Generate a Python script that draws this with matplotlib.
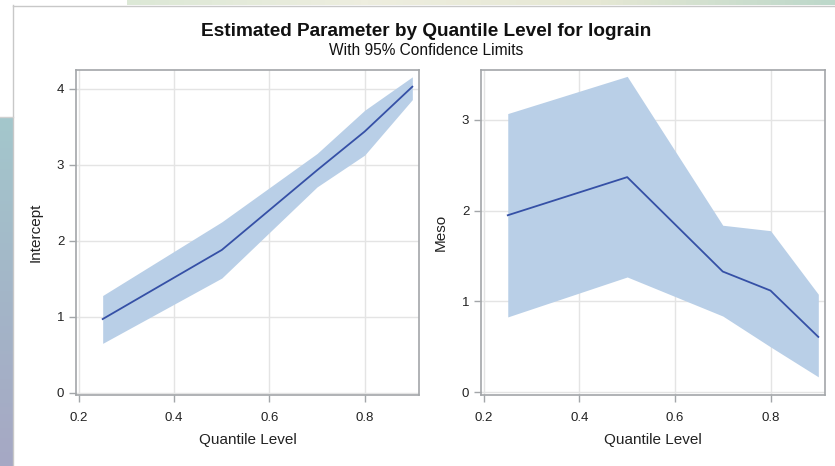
import numpy as np
import matplotlib
matplotlib.use("Agg")
import matplotlib.pyplot as plt

plt.rcParams['font.family'] = ['Liberation Sans', 'DejaVu Sans']

quantiles = [0.25, 0.5, 0.7, 0.8, 0.9]

# Intercept estimates and 95% limits
intercept = [0.97, 1.88, 2.93, 3.44, 4.03]
intercept_lo = [0.65, 1.51, 2.71, 3.13, 3.86]
intercept_hi = [1.28, 2.25, 3.15, 3.72, 4.16]

# Meso estimates and 95% limits
meso = [1.95, 2.37, 1.33, 1.12, 0.61]
meso_lo = [0.83, 1.27, 0.84, 0.50, 0.17]
meso_hi = [3.07, 3.48, 1.84, 1.78, 1.08]

band_color = '#B9CFE7'
line_color = '#3550A6'
frame_color = '#A3A6A9'
grid_color = '#E4E4E4'

fig = plt.figure(figsize=(8.35, 4.66), dpi=100)

# screenshot background bits (left strip and top strip)
grad = np.linspace(0, 1, 100).reshape(-1, 1)
ax_l = fig.add_axes([0, 0, 13 / 835, (466 - 117) / 466])
ax_l.imshow(grad, aspect='auto', cmap=matplotlib.colors.LinearSegmentedColormap.from_list(
    'l', ['#A3C7CC', '#A3B6C8', '#A6A8C4']), extent=[0, 1, 0, 1])
ax_l.axis('off')
ax_t = fig.add_axes([127 / 835, 1 - 5 / 466, 1 - 127 / 835, 5 / 466])
ax_t.imshow(grad.T, aspect='auto', cmap=matplotlib.colors.LinearSegmentedColormap.from_list(
    't', ['#DCE8D6', '#EEEEDF', '#E6E8D4', '#BDD8CA']), extent=[0, 1, 0, 1])
ax_t.axis('off')
fig.add_artist(plt.Line2D([13 / 835, 13 / 835], [0, 1 - 5 / 466], color='#C8C8C8', lw=1))
fig.add_artist(plt.Line2D([13 / 835, 1], [1 - 5.5 / 466, 1 - 5.5 / 466], color='#C8C8C8', lw=1))
fig.add_artist(plt.Line2D([0, 13 / 835], [1 - 116.5 / 466, 1 - 116.5 / 466], color='#D0D0D0', lw=1))

ax1 = fig.add_axes([76 / 835, 71 / 466, 343 / 835, 325 / 466])
ax2 = fig.add_axes([481 / 835, 71 / 466, 344 / 835, 325 / 466])

panels = [
    (ax1, intercept, intercept_lo, intercept_hi, 'Intercept', (-0.03, 4.25), [0, 1, 2, 3, 4]),
    (ax2, meso, meso_lo, meso_hi, 'Meso', (-0.03, 3.55), [0, 1, 2, 3]),
]

for ax, est, lo, hi, name, ylim, yticks in panels:
    ax.fill_between(quantiles, lo, hi, color=band_color, lw=0, zorder=2)
    ax.plot(quantiles, est, color=line_color, lw=1.3, zorder=3)
    ax.set_xlim(0.194, 0.914)
    ax.set_ylim(*ylim)
    ax.set_xticks([0.2, 0.4, 0.6, 0.8])
    ax.set_xticklabels(['0.2', '0.4', '0.6', '0.8'])
    ax.set_yticks(yticks)
    ax.grid(True, color=grid_color, lw=1, zorder=0)
    ax.set_axisbelow(True)
    for s in ax.spines.values():
        s.set_color(frame_color)
        s.set_linewidth(1.2)
    ax.tick_params(colors=frame_color, labelcolor='#222222', labelsize=9.5, length=5, width=1)
    ax.tick_params(axis='x', pad=7.5)
    ax.set_xlabel('Quantile Level', fontsize=11, color='#222222', labelpad=6.5)
    ax.set_ylabel(name, fontsize=11, color='#222222', labelpad=10)

fig.text(426 / 835, 1 - 31.5 / 466, 'Estimated Parameter by Quantile Level for lograin',
         ha='center', va='center', fontsize=13.7, fontweight='bold', color='#111111')
fig.text(426 / 835, 1 - 50.5 / 466, 'With 95% Confidence Limits',
         ha='center', va='center', fontsize=11.2, color='#111111')

fig.savefig('out.png', dpi=100)
